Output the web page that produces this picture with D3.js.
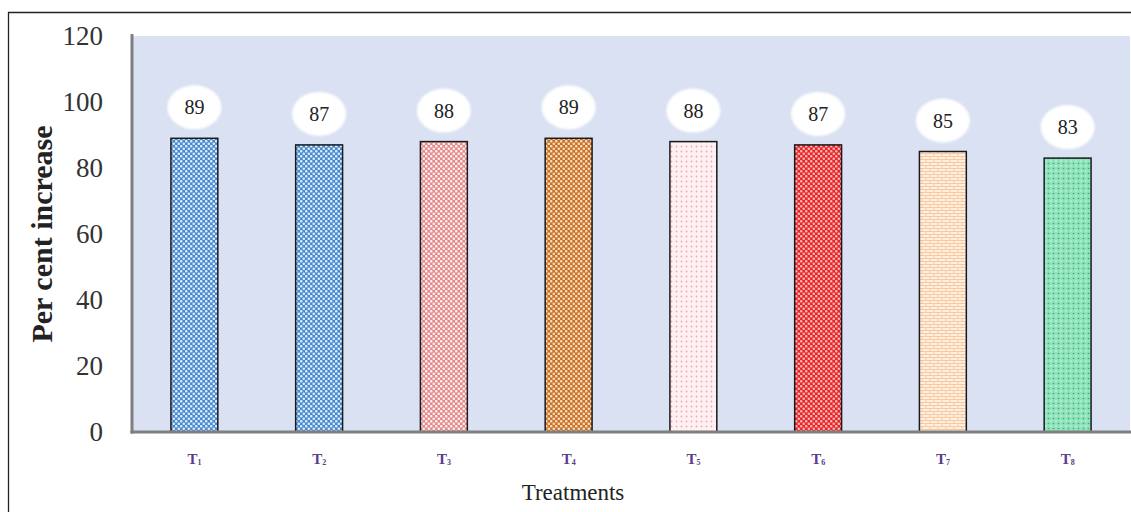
<!DOCTYPE html>
<html><head><meta charset="utf-8">
<script src="https://cdn.jsdelivr.net/npm/d3@7"></script>
<style>body{margin:0;background:#fff}svg{display:block}</style>
</head><body>
<script>
const categories = ["1","2","3","4","5","6","7","8"];
const values = [89, 87, 88, 89, 88, 87, 85, 83];
const yTicks = [0, 20, 40, 60, 80, 100, 120];
const baseColors = ["#4a88cc","#4a88cc","#e58a8a","#c8702a","#f6c6cc","#e8242a","#f5c9a0","#3fbf7f"];
const dotColors = ["#d8ecff","#d8ecff","#fff0f0","#f9dcb8","#ffffff","#fbb4b0","#fff4e4","#c8f5df"];

const W = 1131, H = 512;
const svg = d3.select("body").append("svg").attr("width", W).attr("height", H);

const m = {l:132, t:36, r:1130, b:432};
const x = d3.scaleBand().domain(categories).range([m.l, m.r]).paddingInner(0.624).paddingOuter(0.312);
const y = d3.scaleLinear().domain([0,120]).range([m.b, m.t]);

svg.append("path").attr("d", `M8.5,${H+2} L8.5,12.5 L${W+2},12.5`).attr("fill","none").attr("stroke","#222").attr("stroke-width",1.3);

const defs = svg.append("defs");
categories.forEach((c,i)=>{
  const p = defs.append("pattern").attr("id","p"+i).attr("patternUnits","userSpaceOnUse")
    .attr("width", 5).attr("height", 5);
  if (i===4) {
    p.append("rect").attr("width",5).attr("height",5).attr("fill","#fff1f2");
    p.append("circle").attr("cx",1.5).attr("cy",1.5).attr("r",0.9).attr("fill","#f2a7b0");
  } else if (i===6) {
    p.attr("width",8).attr("height",6);
    p.append("rect").attr("width",8).attr("height",6).attr("fill","#fff0e0");
    p.append("path").attr("d","M0,0.5H8M0,3.5H8M2,0V3M6,3V6").attr("stroke","#f7c9a2").attr("stroke-width",1);
  } else if (i===7) {
    p.append("rect").attr("width",5).attr("height",5).attr("fill","#8ee3bb");
    p.append("circle").attr("cx",1).attr("cy",1).attr("r",0.8).attr("fill","#d6f7e8");
    p.append("circle").attr("cx",3.5).attr("cy",3.5).attr("r",0.8).attr("fill","#3bab74");
  } else {
    p.append("rect").attr("width",5).attr("height",5).attr("fill",baseColors[i]);
    p.append("circle").attr("cx",1.25).attr("cy",1.25).attr("r",1.3).attr("fill",dotColors[i]);
    p.append("circle").attr("cx",3.75).attr("cy",3.75).attr("r",1.3).attr("fill",dotColors[i]);
  }
});
const blur = defs.append("filter").attr("id","soft").attr("x","-20%").attr("y","-20%").attr("width","140%").attr("height","140%");
blur.append("feGaussianBlur").attr("stdDeviation",1.2);

svg.append("rect").attr("x",m.l).attr("y",m.t).attr("width",m.r-m.l).attr("height",m.b-m.t).attr("fill","#d9e1f2");

svg.selectAll("rect.bar").data(values).enter().append("rect").attr("class","bar")
  .attr("x",(d,i)=>x(categories[i])).attr("y",d=>y(d))
  .attr("width",x.bandwidth()).attr("height",d=>y(0)-y(d))
  .attr("fill",(d,i)=>`url(#p${i})`).attr("stroke","#1a1a1a").attr("stroke-width",1.5);

const lab = svg.selectAll("g.lab").data(values).enter().append("g").attr("class","lab")
  .attr("transform",(d,i)=>`translate(${x(categories[i])+x.bandwidth()/2},${y(d)-31})`);
lab.append("ellipse").attr("rx",27).attr("ry",22).attr("fill","#fff").attr("filter","url(#soft)");
lab.append("text").attr("text-anchor","middle").attr("dy","0.35em")
  .attr("font-family","'Liberation Serif', serif").attr("font-size",20).attr("fill","#222")
  .text(d=>d);

const yAxis = d3.axisLeft(y).tickValues(yTicks).tickSize(0).tickPadding(29);
const gy = svg.append("g").attr("transform",`translate(${m.l},0)`).call(yAxis);
gy.select(".domain").remove();
gy.selectAll("text").attr("font-family","'Liberation Serif', serif").attr("font-size",27).attr("fill","#333");

svg.append("line").attr("x1",m.l).attr("x2",m.l).attr("y1",m.t-2).attr("y2",m.b+1.5).attr("stroke","#7f7f7f").attr("stroke-width",3);
svg.append("line").attr("x1",m.l-1.5).attr("x2",m.r+2).attr("y1",m.b).attr("y2",m.b).attr("stroke","#7f7f7f").attr("stroke-width",3);

const xAxis = d3.axisBottom(x).tickSize(0).tickPadding(21).tickFormat(()=> "");
const gx = svg.append("g").attr("transform",`translate(0,${m.b})`).call(xAxis);
gx.select(".domain").remove();
gx.selectAll(".tick text").each(function(d){
  const t = d3.select(this).attr("font-family","'Liberation Serif', serif")
    .attr("font-weight","bold").attr("fill","#5b3b8c").attr("font-size",15);
  t.append("tspan").text("T");
  t.append("tspan").attr("font-size",8).attr("dy",1).text(d);
});

svg.append("text").attr("x",573).attr("y",500).attr("text-anchor","middle")
  .attr("font-family","'Liberation Serif', serif").attr("font-size",23).attr("fill","#222").text("Treatments");
svg.append("text").attr("transform","translate(52,234) rotate(-90)").attr("text-anchor","middle")
  .attr("font-family","'Liberation Serif', serif").attr("font-weight","bold").attr("font-size",30).attr("fill","#222").text("Per cent increase");
</script>
</body></html>
